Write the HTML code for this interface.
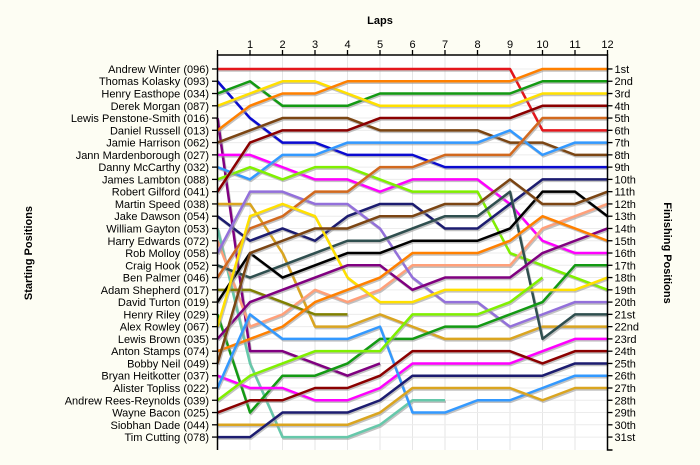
<!DOCTYPE html>
<html><head><meta charset="utf-8"><style>
body{margin:0;background:#fdfdf3;}
svg{display:block;font-family:"Liberation Sans",Arial,sans-serif;}
</style></head><body>
<svg id="chart" width="700" height="465" viewBox="0 0 700 465" xmlns="http://www.w3.org/2000/svg">
<rect x="0" y="0" width="700" height="465" fill="#fdfdf3"/>
<rect x="217" y="55" width="391" height="395" fill="#ffffff"/>
<g id="grid"></g><g id="series"></g><g id="axes"></g>
<text x="380" y="24" text-anchor="middle" font-size="11" font-weight="bold">Laps</text>
<text transform="translate(32,253) rotate(-90)" text-anchor="middle" font-size="11" font-weight="bold">Starting Positions</text>
<text transform="translate(664,253) rotate(90)" text-anchor="middle" font-size="11" font-weight="bold">Finishing Positions</text>
</svg>
<script>
const laps = [0,1,2,3,4,5,6,7,8,9,10,11,12];
const drivers = ["Andrew Winter (096)","Thomas Kolasky (093)","Henry Easthope (034)","Derek Morgan (087)","Lewis Penstone-Smith (016)","Daniel Russell (013)","Jamie Harrison (062)","Jann Mardenborough (027)","Danny McCarthy (032)","James Lambton (088)","Robert Gilford (041)","Martin Speed (038)","Jake Dawson (054)","William Gayton (053)","Harry Edwards (072)","Rob Molloy (058)","Craig Hook (052)","Ben Palmer (046)","Adam Shepherd (017)","David Turton (019)","Henry Riley (029)","Alex Rowley (067)","Lewis Brown (035)","Anton Stamps (074)","Bobby Neil (049)","Bryan Heitkotter (037)","Alister Topliss (022)","Andrew Rees-Reynolds (039)","Wayne Bacon (025)","Siobhan Dade (044)","Tim Cutting (078)"];
const finishLabels = ["1st","2nd","3rd","4th","5th","6th","7th","8th","9th","10th","11th","12th","13th","14th","15th","16th","17th","18th","19th","20th","21st","22nd","23rd","24th","25th","26th","27th","28th","29th","30th","31st"];
const colors = ["#e4161c","#0a0ad0","#139a13","#ffe000","#800080","#ff8000","#7b4513","#ff00ff","#3399ff","#80f000","#8b0000","#daa520","#1c1c70","#66c8aa","#ffa07a","#9370db","#2f4f4f","#d2691e","#808000","#000000","#139a13","#ffe000","#800080","#ff8000","#7b4513","#ff00ff","#3399ff","#80f000","#8b0000","#daa520","#1c1c70"];
const p01=[1,1,1,1,1,1,1,1,1,1,6,6,6];
const p02=[2,5,7,7,8,8,8,9,9,9,9,9,9];
const p03=[3,2,4,4,4,3,3,3,3,3,2,2,2];
const p04=[4,3,2,2,3,4,4,4,4,4,3,3,3];
const p05=[5,24,24,25,26,25];
const p06=[6,4,3,3,2,2,2,2,2,2,1,1,1];
const p07=[7,6,5,5,5,6,6,6,6,7,7,8,8];
const p08=[8,8,9,10,10,11,10,10,10,12,15,16,16];
const p09=[9,10,8,8,7,7,7,7,7,6,8,7,7];
const p10=[10,9,10,9,9,10,11,11,11,16,17,18,19];
const p11=[11,7,6,6,6,5,5,5,5,5,4,4,4];
const p12=[12,12,16,22,22,21,22,23,23,23,22,22,22];
const p13=[13,15,14,15,13,12,12,14,14,12,10,10,10];
const p14=[14,25,31,31,31,30,28,28];
const p15=[15,22,21,19,20,19,17,17,17,17,14,13,12];
const p16=[16,11,11,12,12,14,18,20,20,22,21,20,20];
const p17=[17,18,17,16,15,15,14,13,13,11,23,21,21];
const p18=[18,14,13,11,11,9,9,8,8,8,5,5,5];
const p19=[19,19,20,21,21];
const p20=[20,16,18,17,16,16,15,15,15,14,11,11,13];
const p21=[21,29,26,26,25,23,23,22,22,21,20,17,17];
const p22=[22,13,12,13,18,20,20,19,19,19,19,19,18];
const p23=[23,20,19,18,17,17,19,18,18,18,16,15,14];
const p24=[24,23,22,20,19,18,16,16,16,15,13,14,15];
const p25=[25,16,15,14,14,13,13,12,12,10,12,12,11];
const p26=[26,27,27,28,28,27,25,25,25,25,24,23,23];
const p27=[27,21,23,23,23,22,29,29,28,28,27,26,26];
const p28=[28,26,25,24,24,24,21,21,21,20,18];
const p29=[29,28,28,27,27,26,24,24,24,24,25,24,24];
const p30=[30,30,30,30,30,29,27,27,27,27,28,27,27];
const p31=[31,31,29,29,29,28,26,26,26,26,26,25,25];
const positions=[p01,p02,p03,p04,p05,p06,p07,p08,p09,p10,p11,p12,p13,p14,p15,p16,p17,p18,p19,p20,p21,p22,p23,p24,p25,p26,p27,p28,p29,p30,p31];

const NS="http://www.w3.org/2000/svg";
const X0=217.5, X1=607.5, Y0=56.7, RS=12.27;
function xScale(l){return X0+(X1-X0)*l/12;}
function yScale(r){return Y0+r*RS;}
function mk(tag,attrs,parent){const e=document.createElementNS(NS,tag);for(const k in attrs)e.setAttribute(k,attrs[k]);parent.appendChild(e);return e;}
const grid=document.getElementById('grid'),series=document.getElementById('series'),axes=document.getElementById('axes');
laps.forEach(l=>{if(l===0)return;const g=mk('line',{x1:xScale(l),x2:xScale(l),y1:55,y2:450,stroke:'#e6e6e6','stroke-width':1},grid);

});
drivers.forEach((d,i)=>{const g=mk('line',{x1:X0,x2:X1,y1:yScale(i+1),y2:yScale(i+1),stroke:'#ececec','stroke-width':1},grid);

});
positions.forEach((arr,i)=>{
  const pts=arr.map((r,j)=>xScale(laps[j])+','+yScale(r)).join(' ');
  const sh=mk('polyline',{points:pts,fill:'none',stroke:'#9a9a9a','stroke-width':2.5,'stroke-opacity':0.6,transform:'translate(1,1.5)','stroke-linejoin':'round'},series);
  
  
  const pl=mk('polyline',{points:pts,fill:'none',stroke:colors[i],'stroke-width':2.5,'stroke-linejoin':'round'},series);
  
  
});
const ax=mk('path',{d:`M${X0},450 V55 H${X1} V450 H${X1+5}`,fill:'none',stroke:'#000','stroke-width':1.5},axes);


laps.forEach(l=>{
  const t=mk('line',{x1:xScale(l),x2:xScale(l),y1:50,y2:55,stroke:'#000','stroke-width':1.3},axes);
  
  
  if(l>0){const tx=mk('text',{x:xScale(l),y:48,'text-anchor':'middle','font-size':11},axes);tx.textContent=l;
  
  }
});
drivers.forEach((d,i)=>{
  const y=yScale(i+1);
  const t=mk('line',{x1:212,x2:X0,y1:y,y2:y,stroke:'#000','stroke-width':1.3},axes);
  
  
  const tx=mk('text',{x:209,y:y+4,'text-anchor':'end','font-size':11},axes);tx.textContent=d;
  
  
  const t2=mk('line',{x1:X1,x2:X1+5,y1:y,y2:y,stroke:'#000','stroke-width':1.3},axes);
  
  
  const tx2=mk('text',{x:X1+7,y:y+4,'font-size':11},axes);tx2.textContent=finishLabels[i];
  
  
});
</script>
</body></html>
